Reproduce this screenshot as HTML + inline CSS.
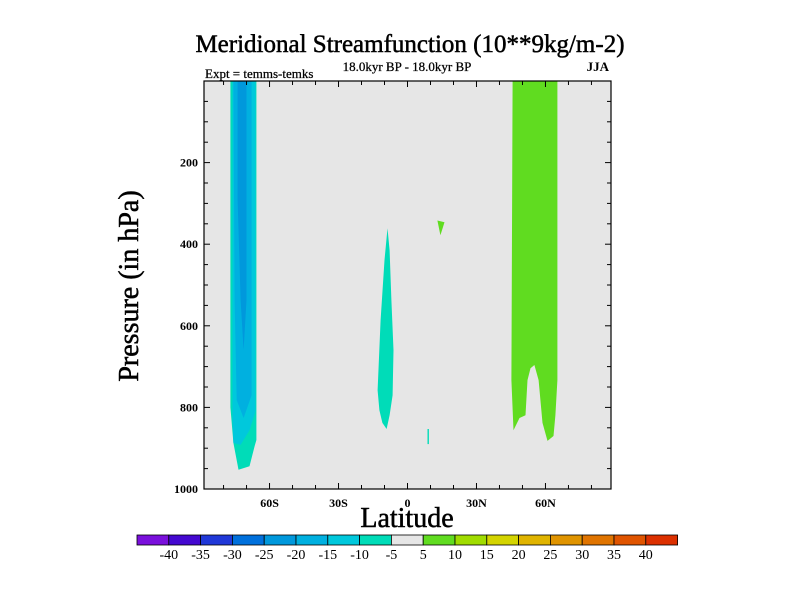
<!DOCTYPE html>
<html><head><meta charset="utf-8"><style>
body{margin:0;background:#fff;}
svg text{font-family:"Liberation Serif",serif;}
</style></head><body>
<svg id="chart" width="800" height="600" viewBox="0 0 800 600" xmlns="http://www.w3.org/2000/svg">
<text x="410" y="52" font-size="25" text-anchor="middle" stroke="#000" stroke-width="0.5">Meridional Streamfunction (10**9kg/m-2)</text>
<text x="205" y="78" font-size="13" stroke="#000" stroke-width="0.25">Expt = temms-temks</text>
<text x="407" y="71" font-size="13" text-anchor="middle" stroke="#000" stroke-width="0.25">18.0kyr BP - 18.0kyr BP</text>
<text x="609" y="71" font-size="13" text-anchor="end" font-weight="bold">JJA</text>
<g id="plot"></g>
<text x="407" y="527" font-size="28" text-anchor="middle" stroke="#000" stroke-width="0.5">Latitude</text>
<text x="0" y="0" font-size="28" text-anchor="middle" stroke="#000" stroke-width="0.5" transform="translate(138,286) rotate(-90)">Pressure (in hPa)</text>
<g id="cbar"></g>
</svg>
<script>
const latTicks=[-60,-30,0,30,60];
const latTickLabels=["60S","30S","0","30N","60N"];
const pTicks=[200,400,600,800,1000];
const cbLevels=[-40,-35,-30,-25,-20,-15,-10,-5,5,10,15,20,25,30,35,40];
const cbColors=["#7a10dc","#4408d0","#2038d8","#0070dc","#0098dc","#00b0e0","#00c8dc","#00dcb8","#e6e6e6","#60dc20","#a0dc00","#d4d400","#e0b400","#e09400","#e07400","#e05400","#dc3000"];
const southLev1Lat=[-77.0,-65.7,-65.7,-66.5,-68.7,-73.5,-75.7,-77.0];
const southLev1P=[0,0,880,895,944,953,887,800];
const southLev2Lat=[-76.1,-66.1,-66.1,-68.7,-72.6,-75.7,-76.1];
const southLev2P=[0,0,810,856,892,887,831];
const southLev3Lat=[-75.7,-67.8,-67.8,-71.3,-74.3,-75.2];
const southLev3P=[0,0,770,826,782,537];
const southLev4Lat=[-73.9,-70.0,-70.0,-71.3,-72.6,-73.9];
const southLev4P=[0,0,537,660,537,292];
const midLat=[-8.7,-10.0,-11.7,-13.0,-12.2,-10.9,-9.1,-7.8,-6.5,-6.1,-7.0,-7.8];
const midP=[361,439,586,758,807,838,853,819,770,660,537,415];
const smallLat=[13.0,16.1,14.3];
const smallP=[342,346,378];
const tinyLat=[8.7,9.3,9.3,8.7];
const tinyP=[853,853,890,890];
const northLat=[45.7,65.2,65.2,64.3,63.5,60.9,58.7,57.0,55.2,53.5,52.2,51.3,48.7,46.1,45.2];
const northP=[0,0,733,819,870,882,838,733,696,704,733,819,826,856,733];
const regions=[
 [southLev1Lat,southLev1P,7,"south-cell-minus5"],
 [southLev2Lat,southLev2P,6,"south-cell-minus10"],
 [southLev3Lat,southLev3P,5,"south-cell-minus15"],
 [southLev4Lat,southLev4P,4,"south-cell-minus20"],
 [midLat,midP,7,"tropical-cell"],
 [tinyLat,tinyP,7,"equatorial-patch"],
 [smallLat,smallP,9,"subtropical-patch"],
 [northLat,northP,9,"north-cell"]];
const X0=204,X1=611,Y0=81,Y1=489,LATMIN=-88.5,LATMAX=88.5;
const xs=l=>X0+(l-LATMIN)/(LATMAX-LATMIN)*(X1-X0);
const ys=p=>Y0+p/1000*(Y1-Y0);
const NS="http://www.w3.org/2000/svg";
function mk(t,a,parent){const e=document.createElementNS(NS,t);for(const k in a)e.setAttribute(k,a[k]);parent.appendChild(e);return e;}
const plot=document.getElementById('plot');
const bg=mk('rect',{x:X0,y:Y0,width:X1-X0,height:Y1-Y0,fill:'#e6e6e6'},plot);


regions.forEach(r=>{
 const pts=r[0].map((l,i)=>xs(l).toFixed(1)+','+ys(r[1][i]).toFixed(1)).join(' ');
 const pg=mk('polygon',{points:pts,fill:cbColors[r[2]]},plot);
 
 
});
const fr=mk('rect',{x:X0,y:Y0,width:X1-X0,height:Y1-Y0,fill:'none',stroke:'#000','stroke-width':1.2},plot);


for(let l=-80;l<=80;l+=10){const x=xs(l);const maj=(l%30===0);const len=maj?6:4;
 mk('line',{x1:x,x2:x,y1:Y1,y2:Y1-len,stroke:'#000'},plot);mk('line',{x1:x,x2:x,y1:Y0,y2:Y0+len,stroke:'#000'},plot);}
latTicks.forEach((l,i)=>{const t=mk('text',{x:xs(l),y:Y1+18,'font-size':12,'text-anchor':'middle','font-weight':'bold'},plot);t.textContent=latTickLabels[i];
 
 });
for(let p=50;p<1000;p+=50){const y=ys(p);const maj=(p%200===0);const len=maj?6:4;
 mk('line',{x1:X0,x2:X0+len,y1:y,y2:y,stroke:'#000'},plot);mk('line',{x1:X1,x2:X1-len,y1:y,y2:y,stroke:'#000'},plot);}
pTicks.forEach(p=>{const t=mk('text',{x:X0-6,y:ys(p)+4,'font-size':12,'text-anchor':'end','font-weight':'bold'},plot);t.textContent=p;
 
 });
const cb=document.getElementById('cbar');
const CB0=137,CBW=31.8,CBY=535,CBH=10;
cbColors.forEach((c,i)=>{const r=mk('rect',{x:CB0+i*CBW,y:CBY,width:CBW,height:CBH,fill:c,stroke:'#000','stroke-width':0.8},cb);
 
 });
cbLevels.forEach((v,i)=>{const t=mk('text',{x:CB0+(i+1)*CBW,y:CBY+24,'font-size':14,'text-anchor':'middle'},cb);t.textContent=v;
 
 });
</script>
</body></html>
